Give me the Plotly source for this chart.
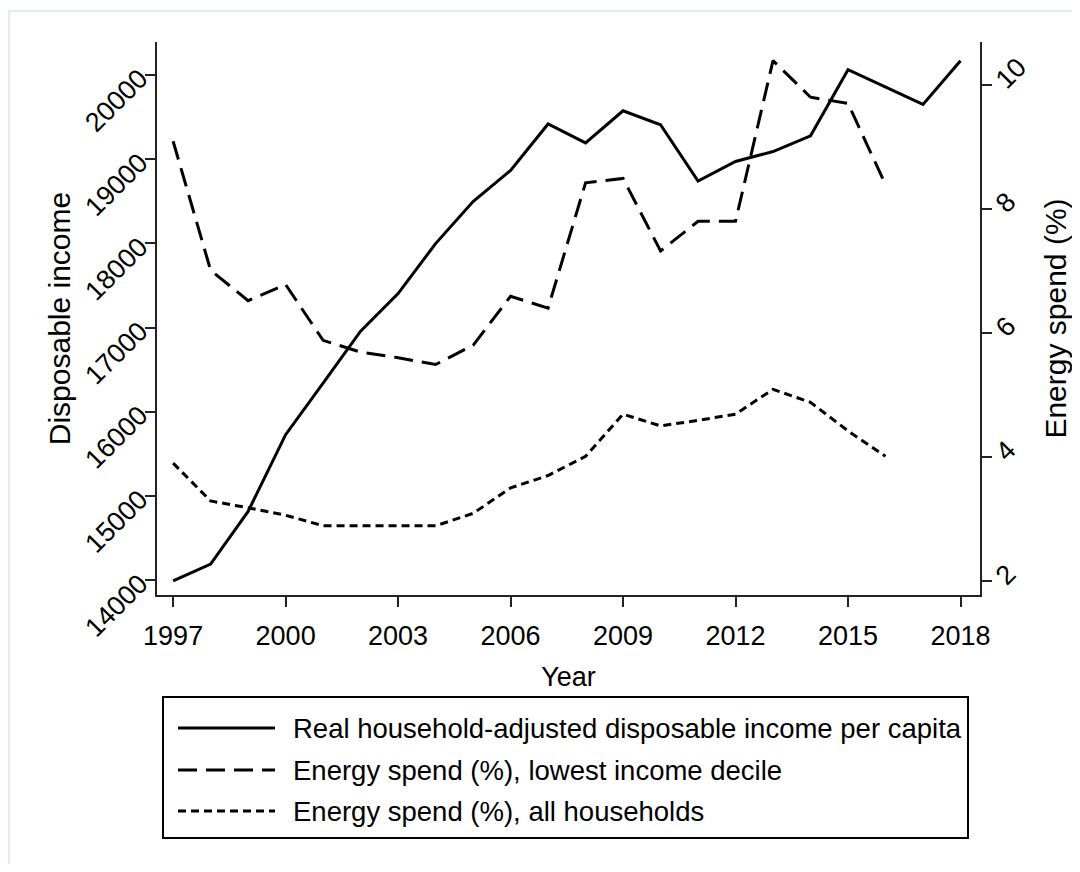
import plotly.graph_objects as go

# ---------------- data ----------------
years = list(range(1997, 2019))
income = [13990, 14190, 14815, 15727, 16340, 16957, 17403, 17997, 18497, 18866,
          19418, 19193, 19575, 19409, 18739, 18972, 19091, 19278, 20063, 19857,
          19651, 20169]

energy_years = list(range(1997, 2017))
energy_lowest = [9.09, 7.01, 6.52, 6.78, 5.88, 5.69, 5.60, 5.49, 5.80, 6.59,
                 6.40, 8.42, 8.49, 7.32, 7.80, 7.80, 10.39, 9.80, 9.70, 8.39]
energy_all = [3.90, 3.29, 3.18, 3.06, 2.89, 2.89, 2.89, 2.89, 3.09, 3.50,
              3.70, 4.01, 4.69, 4.50, 4.59, 4.69, 5.09, 4.88, 4.42, 4.01]

series_names = [
    "Real household-adjusted disposable income per capita",
    "Energy spend (%), lowest income decile",
    "Energy spend (%), all households",
]
x_ticks = list(range(1997, 2019, 3))
left_ticks = list(range(14000, 20001, 1000))
right_ticks = [2, 4, 6, 8, 10]

# ---------------- layout geometry (page pixel coordinates) ----------------
OFF = 8                      # default body margin of the html page
W, H = 1080 - 2 * OFF, 872 - 2 * OFF
L, R, T, B = 157, 980, 42, 595
FONT = "Liberation Sans, Arial, sans-serif"
DASH_LONG = "19px,9px"
DASH_DOT = "8px,5px"


def px(x):
    return (x - L) / (R - L)


def py(y):
    return (B - y) / (B - T)


fig = go.Figure()
fig.add_trace(go.Scatter(x=years, y=income, mode="lines", name=series_names[0],
                         line=dict(color="black", width=3), yaxis="y"))
fig.add_trace(go.Scatter(x=energy_years, y=energy_lowest, mode="lines", name=series_names[1],
                         line=dict(color="black", width=3, dash=DASH_LONG), yaxis="y2"))
fig.add_trace(go.Scatter(x=energy_years, y=energy_all, mode="lines", name=series_names[2],
                         line=dict(color="black", width=3, dash=DASH_DOT), yaxis="y2"))

axis_common = dict(showgrid=False, zeroline=False, showline=True, linecolor="#222",
                   linewidth=1.5, ticks="outside", ticklen=10, tickwidth=1.5,
                   tickcolor="#222", automargin=False,
                   tickfont=dict(family=FONT, size=27, color="black"))

fig.update_layout(
    width=W, height=H,
    margin=dict(l=L - OFF, r=W - (R - OFF), t=T - OFF, b=H - (B - OFF), pad=0),
    paper_bgcolor="white", plot_bgcolor="white",
    showlegend=False,
    font=dict(family=FONT, color="black"),
    xaxis=dict(range=[1996.57, 2018.52], tickvals=x_ticks, tickformat="d",
               ticklabelstandoff=6,
               title=dict(text="Year", font=dict(family=FONT, size=27), standoff=17),
               **axis_common),
    yaxis=dict(range=[13822, 20392], tickvals=left_ticks, tickformat="d", tickangle=-45,
               title=dict(text="Disposable income", font=dict(family=FONT, size=30), standoff=0),
               **axis_common),
    yaxis2=dict(range=[1.774, 10.69], tickvals=right_ticks, tickformat="d", tickangle=-45,
                overlaying="y", side="right",
                title=dict(text="Energy spend (%)", font=dict(family=FONT, size=30), standoff=16),
                **axis_common),
)

# ---------------- manual legend ----------------
shapes = []
shapes.append(dict(type="rect", xref="paper", yref="paper",
                   x0=px(163), x1=px(968), y0=py(838), y1=py(697),
                   line=dict(color="black", width=2), fillcolor="rgba(0,0,0,0)"))
row_y = [728, 770, 811]
dashes = ["solid", DASH_LONG, DASH_DOT]
for i in range(3):
    shapes.append(dict(type="line", xref="paper", yref="paper",
                       x0=px(178), x1=px(275), y0=py(row_y[i]), y1=py(row_y[i]),
                       line=dict(color="black", width=3, dash=dashes[i])))
    fig.add_annotation(xref="paper", yref="paper", x=px(291), y=py(row_y[i]),
                       text=series_names[i], showarrow=False, xanchor="left",
                       yanchor="middle", font=dict(family=FONT, size=27.5, color="black"))

# faint outer frame (left and top edges)
shapes.append(dict(type="line", xref="paper", yref="paper", x0=px(9), x1=px(9),
                   y0=py(11), y1=py(864), line=dict(color="#e4eded", width=2)))
shapes.append(dict(type="line", xref="paper", yref="paper", x0=px(9), x1=px(1072),
                   y0=py(11), y1=py(11), line=dict(color="#e4eded", width=2)))
fig.update_layout(shapes=shapes)

fig.write_html("out.html")
